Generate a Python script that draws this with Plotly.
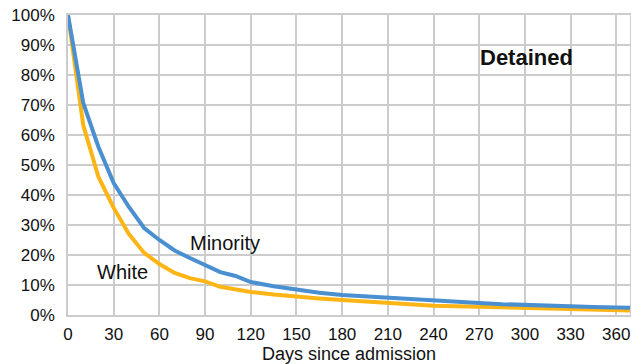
import plotly.graph_objects as go

days = [0, 10, 20, 30, 40, 50, 60, 70, 80, 90, 100, 110, 120, 135, 150, 165, 180, 195, 210, 225, 240, 255, 270, 285, 300, 315, 330, 345, 360, 369]
minority = [100, 70.7, 56, 44, 36, 29, 25, 21.5, 19, 16.7, 14.3, 13, 11, 9.6, 8.4, 7.4, 6.7, 6.2, 5.7, 5.2, 4.7, 4.3, 4.0, 3.6, 3.3, 3.1, 2.9, 2.7, 2.5, 2.4]
white = [100, 63.3, 46, 35.7, 27, 20.7, 17, 14, 12.3, 11.2, 9.4, 8.5, 7.7, 6.8, 6.0, 5.5, 5.0, 4.5, 4.0, 3.5, 3.1, 2.9, 2.7, 2.5, 2.3, 2.1, 2.0, 1.8, 1.6, 1.5]
xticks = list(range(0, 361, 30))
yticks = list(range(0, 101, 10))

fig = go.Figure()
fig.add_trace(go.Scatter(x=days, y=white, mode="lines", name="White",
                         line=dict(color="#FDB515", width=4)))
fig.add_trace(go.Scatter(x=days, y=minority, mode="lines", name="Minority",
                         line=dict(color="#4A8FD0", width=4)))

font = "Liberation Sans, Arial, Helvetica, sans-serif"
fig.update_layout(
    width=631, height=364,
    margin=dict(l=68, r=1, t=15, b=49),
    paper_bgcolor="white", plot_bgcolor="white",
    showlegend=False,
    font=dict(family=font, color="#111111", size=17),
    xaxis=dict(range=[0, 369], tickvals=xticks, ticktext=[str(t) for t in xticks],
               automargin=False,
               showgrid=True, gridcolor="#cccccc", gridwidth=1.5,
               showline=True, linecolor="#cccccc", linewidth=1.5, mirror=True,
               zeroline=False, ticks="outside", ticklen=3, tickcolor="white",
               tickfont=dict(size=17),
               title=dict(text="Days since admission", font=dict(size=18), standoff=0)),
    yaxis=dict(range=[0, 100], tickvals=yticks, ticktext=[f"{t}%" for t in yticks],
               automargin=False,
               showgrid=True, gridcolor="#cccccc", gridwidth=1.5,
               showline=True, linecolor="#cccccc", linewidth=1.5, mirror=True,
               zeroline=False, ticks="outside", ticklen=8, tickcolor="white",
               tickfont=dict(size=17)),
    annotations=[
        dict(x=79, y=24, text="Minority", showarrow=False, xanchor="left",
             font=dict(size=20, family=font, color="#111111")),
        dict(x=35.5, y=14.3, text="White", showarrow=False, xanchor="center",
             font=dict(size=20, family=font, color="#111111")),
        dict(x=301, y=85.7, text="<b>Detained</b>", showarrow=False, xanchor="center",
             font=dict(size=22, family=font, color="#111111")),
    ],
)
fig.write_html("out.html", config={"displayModeBar": False},
               post_script="document.body.style.margin='0';document.body.style.overflow='hidden';")
